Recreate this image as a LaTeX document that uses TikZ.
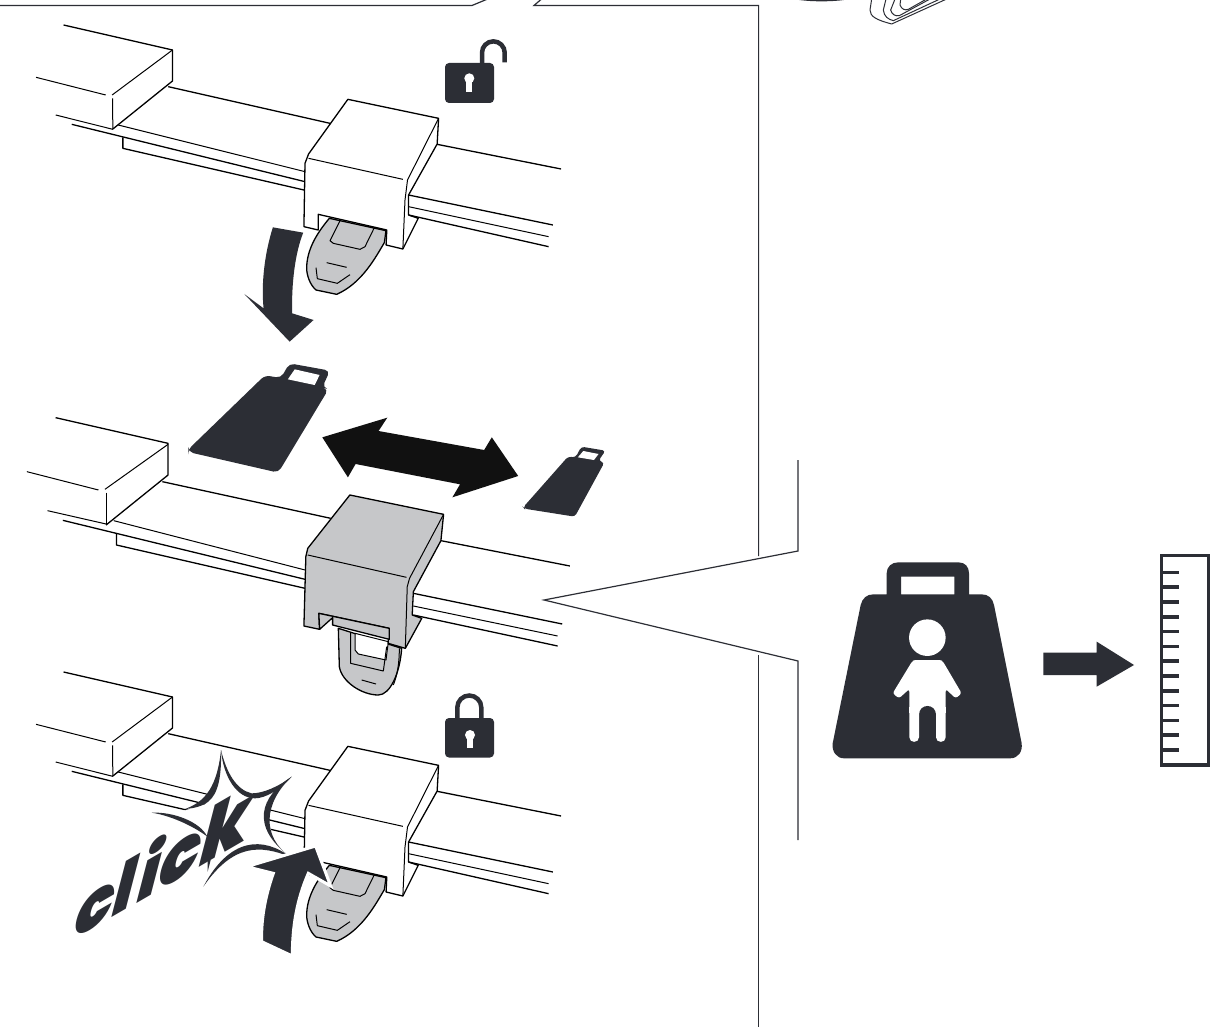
\documentclass[tikz,border=0pt]{standalone}
\usepackage{fontspec}
\setmainfont{Liberation Sans}
\newfontfamily\clickfont[LetterSpace=5]{Poppins Black}
\definecolor{ink}{HTML}{2C2E35}
\definecolor{gr}{HTML}{C6C7C9}
\definecolor{blk}{HTML}{111111}
\tikzset{
  fine/.style={draw=black,line width=1pt,line join=round},
  med/.style={draw=black,line width=1.3pt,line join=round},
  frameline/.style={draw=ink,line width=1.2pt,line join=miter},
  zoomA/.style={shift={(20,0)},x=0.35714pt,y=-0.33333pt},
  zoomB/.style={shift={(20,350)},x=0.38265pt,y=-0.33333pt},
  zoomC/.style={shift={(60,740)},x=0.33333pt,y=-0.33333pt},
  zoomD/.style={shift={(820,540)},x=0.33333pt,y=-0.33333pt},
  zoomE/.style={shift={(280,200)},x=0.33333pt,y=-0.33333pt},
  zoomF/.style={shift={(290,600)},x=0.33333pt,y=-0.33333pt},
  zoomG/.style={shift={(780,0)},x=0.33333pt,y=-0.33333pt},
}
\newcommand{\rackA}[1]{%
\begin{scope}[shift={(0,#1)}]
\begin{scope}[zoomA]
\draw[med] (122,75)--(427,150)--(427,243)--(260,387);
\draw[fine] (427,150)--(258,285);
\draw[fine] (259,295)--(260,387);
\draw[fine] (45,232)--(240,285);
\draw[fine] (100,345)--(260,388);
\draw[fine] (275,375)--(798,515);
\draw[med] (145,373)--(798,545);
\draw[med] (288,412)--(288,445)--(795,570);
\draw[med] (415,260)--(868,370);
\draw[med,fill=white] (918,298)--(1172,355)--(1168,432)--(1088,585)--(1088,645)--(1115,655)--(1072,747)--(1025,735)--(1027,690)--(835,643)--(835,690)--(795,680)--(798,490)--(808,462)--cycle;
\draw[fine] (808,475)--(1072,538);
\draw[fine] (1172,355)--(1085,540)--(1078,600)--(1072,747);
\draw[med] (1168,433)--(1515,507);
\draw[med] (1088,585)--(1492,675);
\draw[fine] (1088,620)--(1480,710);
\draw[med] (1088,645)--(1480,740);
\end{scope}
\begin{scope}[zoomE]
\draw[med,fill=gr] (148,55)--(318,92)--(313,128) .. controls (285,175) and (245,250) .. (170,283)--(108,270) .. controls (90,255) and (80,225) .. (80,205) .. controls (80,150) and (110,100) .. (148,55)--cycle;
\draw[fine] (180,62)--(150,122)--(160,130)--(240,148)--(255,140)--(282,85);
\draw[fine] (140,188)--(200,202);
\draw[fine] (108,203)--(112,236)--(172,250)--(210,224);
\end{scope}
\end{scope}}
\begin{document}
\begin{tikzpicture}[x=1pt,y=-1pt]
\useasboundingbox (0,0) rectangle (1215,1027);
\fill[white] (0,0) rectangle (1215,1027);
% frame lines
\draw[frameline] (0,5.5)--(472,5.5)--(490,-2);
\draw[frameline] (545,-4)--(534,5.5)--(758.6,5.5)--(758.6,556);
\draw[frameline] (758.6,655)--(758.6,1027);
\draw[frameline] (798,460)--(798,551)--(544,600)--(798,661)--(798,840);
% top fragments
\begin{scope}[zoomG]
\fill[ink] (45,-2) .. controls (90,6) and (160,6) .. (205,-2)--cycle;
\draw[fine,draw=ink] (275,-3)--(270,30) .. controls (270,50) and (290,60) .. (335,72)--(500,-3);
\draw[fine,draw=ink] (318,-3)--(310,30) .. controls (312,50) and (325,58) .. (340,62)--(480,-3);
\draw[fine,draw=ink] (345,-3)--(332,30) .. controls (335,42) and (345,50) .. (358,47)--(450,-3);
\draw[fine,draw=ink] (362,-3)--(360,15) .. controls (365,28) and (375,32) .. (385,28)--(440,-3);
\end{scope}
% rack 1 and 3
\rackA{0}
\rackA{647}
% down arrow
\begin{scope}[zoomA]
\fill[ink] (708,682)--(793,698) .. controls (770,760) and (760,850) .. (762,940)--(822,960)--(755,1025)--(628,882)--(682,925) .. controls (675,850) and (685,760) .. (708,682)--cycle;
\end{scope}
% lock open
\fill[ink,rounded corners=4pt] (445,63) rectangle (494,103);
\draw[ink,line width=4.5pt] (482,66)--(482,52.7) arc[start angle=180,end angle=0,radius=11.35pt]--(504.7,62.3);
\fill[white] (469.3,78.3) circle[radius=5pt];
\fill[white] (466.3,79)--(472.3,79)--(472.3,92)--(466.3,92)--cycle;
% lock closed
\fill[ink,rounded corners=4pt] (445,718) rectangle (494,757.5);
\draw[ink,line width=4.5pt] (457.3,722)--(457.3,707.5) arc[start angle=180,end angle=0,radius=12pt]--(481.3,722);
\fill[white] (470,735) circle[radius=5pt];
\fill[white] (467,736)--(473,736)--(473,747.5)--(467,747.5)--cycle;
% panel 2
\begin{scope}[zoomB]
\draw[med] (93,203)--(387,280)--(387,375)--(225,525);
\draw[fine] (387,283)--(222,418);
\draw[fine] (225,428)--(225,525);
\draw[fine] (18,365)--(205,420);
\draw[fine] (72,482)--(225,522);
\draw[fine] (245,512)--(745,660);
\draw[med] (112,511)--(745,688);
\draw[med] (252,550)--(252,585)--(745,715);
\draw[med] (372,395)--(812,505);
\draw[med] (1100,572)--(1437,648);
\draw[med] (1028,730)--(1417,822);
\draw[fine] (1028,768)--(1405,858);
\draw[med] (1028,795)--(1405,888);
\fill[ink,rounded corners=5pt] (440,298)--(640,76)--(682,84)--(704,40)--(810,62)--(790,112)--(806,118)--(675,368)--(440,306)--cycle;
\fill[white] (718,58)--(783,75)--(770,105)--(700,88)--cycle;
\fill[ink,rounded corners=3pt] (1315,472)--(1432,320)--(1452,322)--(1467,290)--(1530,302)--(1512,332)--(1527,338)--(1450,500)--(1318,476)--cycle;
\fill[white] (1472,303)--(1512,312)--(1500,330)--(1458,322)--cycle;
\fill[blk] (790,262)--(960,203)--(937,243)--(1213,300)--(1233,262)--(1302,378)--(1130,442)--(1150,403)--(877,342)--(857,382)--cycle;
\end{scope}
\begin{scope}[zoomF]
\draw[med,fill=gr] (145,85)--(148,200) .. controls (155,245) and (215,285) .. (265,285) .. controls (300,285) and (330,220) .. (335,145)--cycle;
\draw[fine] (310,255) .. controls (322,225) and (328,190) .. (328,145);
\draw[fine,fill=white] (195,100)--(195,150)--(205,162)--(288,180)--(295,125)--cycle;
\draw[fine] (182,97)--(182,190)--(280,213)--(290,140);
\draw[fine] (215,240)--(258,252);
\end{scope}
\begin{scope}[zoomB]
\draw[med,fill=gr] (862,435)--(1107,493)--(1100,572)--(1028,725)--(1025,795)--(1050,805)--(1007,895)--(962,880)--(965,835)--(781,790)--(783,838)--(742,828)--(747,620)--(752,595)--cycle;
\draw[fine] (752,615)--(1010,682);
\draw[fine] (1107,493)--(1018,685)--(1012,710)--(1007,895);
\draw[med,fill=gr] (783,838)--(817,803)--(817,825)--(965,868)--(965,835)--(781,790)--cycle;
\end{scope}
% click
\begin{scope}[zoomC]
\fill[white] (483,30) .. controls (495,110) and (530,160) .. (570,172) .. controls (610,165) and (660,140) .. (695,110) .. controls (620,170) and (590,260) .. (690,350) .. controls (610,300) and (530,310) .. (430,440) .. controls (450,380) and (450,330) .. (430,270) .. controls (400,240) and (340,220) .. (275,218) .. controls (340,215) and (400,215) .. (440,190) .. controls (470,150) and (480,90) .. (483,30)--cycle;
\fill[ink] (483,30) .. controls (500,100) and (530,150) .. (575,160) .. controls (610,160) and (655,140) .. (695,110) .. controls (660,150) and (615,175) .. (585,175) .. controls (530,175) and (490,110) .. (483,30)--cycle;
\fill[ink] (695,110) .. controls (600,170) and (570,260) .. (690,350) .. controls (605,290) and (610,190) .. (695,110)--cycle;
\fill[ink] (690,350) .. controls (610,290) and (510,290) .. (430,440) .. controls (520,310) and (600,315) .. (690,350)--cycle;
\fill[ink] (275,218) .. controls (340,215) and (420,245) .. (442,290) .. controls (410,265) and (340,228) .. (275,218)--cycle;
\fill[ink] (483,30) .. controls (485,110) and (475,160) .. (445,185) .. controls (430,197) and (405,205) .. (375,207) .. controls (420,190) and (470,160) .. (483,30)--cycle;
\fill[ink] (443,360)--(452,360)--(443,395)--cycle;
\end{scope}
\node[inner sep=0pt,anchor=base west,text=ink,font=\clickfont,transform shape,cm={0.86,0.5,0.26,1.0,(70,942)}] (clicktext) at (0,0) {\fontsize{74}{74}\selectfont c\fontsize{76}{76}\selectfont l\fontsize{76}{76}\selectfont i\fontsize{78}{78}\selectfont c\fontsize{84}{84}\selectfont k};
% up arrow
\begin{scope}[zoomC]
\draw[white,line width=3pt,fill=ink,line join=miter] (605,605)--(697,648) .. controls (697,560) and (710,480) .. (745,400)--(812,438)--(767,318)--(560,380)--(640,400) .. controls (615,470) and (603,540) .. (605,605)--cycle;
\end{scope}
% right icons
\begin{scope}[zoomD]
\fill[ink,even odd rule] (72,655) .. controls (50,655) and (35,635) .. (38,610)--(122,195) .. controls (127,175) and (140,163) .. (160,163)--(200,163)--(200,100) .. controls (200,80) and (215,67) .. (235,67)--(415,67) .. controls (435,67) and (447,80) .. (447,100)--(447,163)--(485,163) .. controls (505,163) and (518,175) .. (522,195)--(605,610) .. controls (608,635) and (595,655) .. (570,655)--cycle (243,110)--(403,110)--(403,163)--(243,163)--cycle;
\fill[white] (322,293) circle[radius=18.3pt];
\fill[white,rounded corners=2.5pt] (285,360)--(360,360)--(368,363)--(425,460)--(407,475)--(377,447)--(377,520)--(268,520)--(268,447)--(237,475)--(218,460)--(277,363)--cycle;
\fill[white] (268,500)--(377,500)--(377,520)--(268,520)--cycle;
\fill[ink] (297,525) .. controls (297,490) and (348,490) .. (348,525)--cycle;
\fill[white] (268,515)--(297,515)--(297,592) .. controls (297,610) and (268,610) .. (268,592)--cycle;
\fill[white] (348,515)--(377,515)--(377,592) .. controls (377,610) and (348,610) .. (348,592)--cycle;
\fill[ink] (670,338)--(830,338)--(830,305)--(942,375)--(830,440)--(830,405)--(670,405)--cycle;
\draw[ink,line width=3.2pt] (1025,47) rectangle (1165,675);
\foreach \i in {0,...,12}{\draw[ink,line width=3.6pt] (1030,{97+44.4*\i})--(1078,{97+44.4*\i});}
\end{scope}
\end{tikzpicture}
\end{document}
